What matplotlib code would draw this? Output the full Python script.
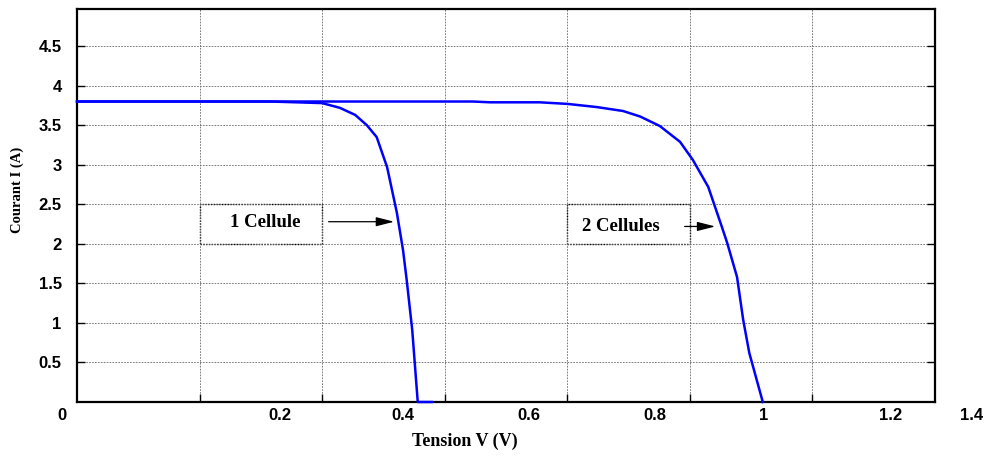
import matplotlib
matplotlib.use("Agg")
import matplotlib.pyplot as plt
from matplotlib.patches import Rectangle
from matplotlib.transforms import blended_transform_factory

# courbes I-V (tension en V, courant en A)
v_1cell = [0.0, 0.315, 0.400, 0.429, 0.454, 0.473, 0.489, 0.506, 0.522, 0.532, 0.538, 0.547, 0.556, 0.579]
i_1cell = [3.80, 3.80, 3.78, 3.72, 3.63, 3.50, 3.35, 2.97, 2.39, 1.92, 1.54, 0.91, 0.0, 0.0]

v_2cell = [0.0, 0.646, 0.674, 0.755, 0.800, 0.848, 0.891, 0.919, 0.951, 0.984, 1.005, 1.030,
           1.052, 1.061, 1.077, 1.087, 1.097, 1.119]
i_2cell = [3.80, 3.80, 3.79, 3.79, 3.77, 3.73, 3.68, 3.61, 3.49, 3.29, 3.06, 2.72,
           2.22, 2.01, 1.58, 1.04, 0.62, 0.0]

grid_x = [0.2, 0.4, 0.6, 0.8, 1.0, 1.2]
yticks = [0.5, 1, 1.5, 2, 2.5, 3, 3.5, 4, 4.5]

# étiquettes de l'axe x (placées comme sur la figure d'origine)
xlabels = ["0", "0.2", "0.4", "0.6", "0.8", "1", "1.2", "1.4"]
xlabel_pos = [-0.024, 0.331, 0.532, 0.738, 0.943, 1.121, 1.327, 1.459]

# annotations
boxes = [(0.2, 2.0, 0.2, 0.5), (0.8, 2.0, 0.2, 0.5)]
noms = ["1 Cellule", "2 Cellules"]
nom_pos = [(0.307, 2.27), (0.888, 2.22)]
fleche_debut = [(0.406, 2.28), (0.987, 2.22)]
fleche_fin = [(0.522, 2.28), (1.046, 2.22)]

fig = plt.figure(figsize=(9.89, 4.57), dpi=100)
ax = fig.add_axes([77/989, 55/457, 858/989, 393/457])

ax.plot(v_1cell, i_1cell, color=(0, 0, 1), lw=1.8, clip_on=False, zorder=3)
ax.plot(v_2cell, i_2cell, color=(0, 0, 1), lw=1.8, clip_on=False, zorder=3)

ax.set_xlim(0, 1.4)
ax.set_ylim(0, 4.97)
ax.set_xticks(grid_x)
ax.set_xticklabels([])
ax.set_yticks(yticks)
ax.set_yticklabels([str(t) for t in yticks], fontfamily="Liberation Sans", fontweight="bold", fontsize=12)
ax.tick_params(direction="in", length=6, width=1, right=True, pad=11)
ax.grid(True, color="0.4", linestyle=(0, (2, 1.5)), lw=0.6)
for s in ax.spines.values():
    s.set_linewidth(1.6)
    s.set_zorder(2.5)

trans = blended_transform_factory(ax.transData, ax.transAxes)
for lab, xp in zip(xlabels, xlabel_pos):
    ax.text(xp, -0.034, lab, transform=trans, ha="center", va="center",
            fontfamily="Liberation Sans", fontweight="bold", fontsize=12, clip_on=False)

ax.set_xlabel("Tension V (V)", fontfamily="Liberation Serif", fontweight="bold", fontsize=13)
ax.xaxis.set_label_coords(0.452, -0.078)
ax.set_ylabel("Courant I (A)", fontfamily="Liberation Serif", fontweight="bold", fontsize=10.5)
ax.yaxis.set_label_coords(-0.062, 0.54)

for (bx, by, bw, bh), nom, (tx, ty), d, f in zip(boxes, noms, nom_pos, fleche_debut, fleche_fin):
    ax.add_patch(Rectangle((bx, by), bw, bh, fill=False, ec="black", lw=1.0, ls=(0, (1, 1))))
    ax.text(tx, ty, nom, ha="center", va="center", fontfamily="Liberation Serif",
            fontweight="bold", fontsize=13.5)
    ax.annotate("", xy=f, xytext=d,
                arrowprops=dict(arrowstyle="-|>,head_length=1.1,head_width=0.28", color="black", lw=0.9))

fig.savefig("out.png", dpi=100)
